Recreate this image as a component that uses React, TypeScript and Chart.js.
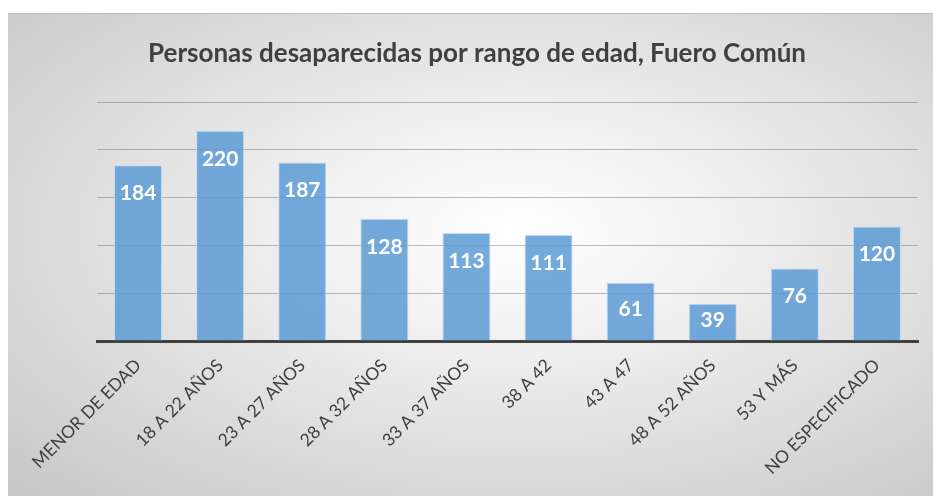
import React, { useEffect, useRef } from "react";
import { Chart, registerables } from "chart.js";

Chart.register(...registerables);

const title = "Personas desaparecidas por rango de edad, Fuero Común";
const categories = [
  "MENOR DE EDAD",
  "18 A 22 AÑOS",
  "23 A 27 AÑOS",
  "28 A 32 AÑOS",
  "33 A 37 AÑOS",
  "38 A 42",
  "43 A 47",
  "48 A 52 AÑOS",
  "53 Y MÁS",
  "NO ESPECIFICADO",
];
const values = [184, 220, 187, 128, 113, 111, 61, 39, 76, 120];
const yMax = 250;
const yStep = 50;

const valueLabels = {
  id: "valueLabels",
  afterDatasetsDraw(chart: any) {
    const ctx = chart.ctx;
    const meta = chart.getDatasetMeta(0);
    ctx.save();
    ctx.fillStyle = "#ffffff";
    ctx.font = "bold 21px Lato";
    ctx.textAlign = "center";
    ctx.textBaseline = "middle";
    meta.data.forEach((bar: any, i: number) => {
      const y = Math.min(bar.y + 28, (bar.y + bar.base) / 2 - 2);
      ctx.fillText(String(values[i]), bar.x, y);
    });
    ctx.restore();
  },
};

export default function App() {
  const ref = useRef<HTMLCanvasElement | null>(null);
  useEffect(() => {
    if (!ref.current) return;
    const chart = new Chart(ref.current, {
      type: "bar",
      data: {
        labels: categories,
        datasets: [
          {
            data: values,
            backgroundColor: "rgba(91,155,213,0.85)",
            borderColor: "rgba(195,218,240,0.95)",
            borderWidth: 1,
            barPercentage: 0.585,
            categoryPercentage: 1,
          },
        ],
      },
      options: {
        animation: false,
        responsive: false,
        devicePixelRatio: 1,
        layout: { padding: { left: 28, right: 15, top: 0, bottom: 0 } },
        plugins: {
          legend: { display: false },
          tooltip: { enabled: false },
          title: {
            display: true,
            text: title,
            color: "#404040",
            font: { family: "Lato", size: 26, weight: "bold" },
            padding: { top: 24, bottom: 33 },
          },
        },
        scales: {
          x: {
            grid: { display: false, drawTicks: false },
            border: { display: true, color: "#404040", width: 3 },
            ticks: {
              color: "#404040",
              font: { family: "Lato", size: 17.5 },
              minRotation: 45,
              maxRotation: 45,
              padding: 14,
              autoSkip: false,
            },
            afterFit(s: any) {
              s.height = 155;
            },
          },
          y: {
            min: 0,
            max: yMax,
            z: 1,
            ticks: { display: false, stepSize: yStep },
            grid: { color: "rgba(100,100,100,0.42)", drawTicks: false, lineWidth: 1 },
            border: { display: false },
            afterFit(s: any) {
              s.width = 61;
            },
          },
        },
      },
      plugins: [valueLabels],
    });
    return () => chart.destroy();
  }, []);
  return (
    <div
      style={{
        position: "absolute",
        left: 8,
        top: 13,
        width: 925,
        height: 483,
        background:
          "radial-gradient(ellipse farthest-corner at 55% 45%, #ffffff 0%, #f3f3f3 25%, #c6c6c6 100%)",
        borderTop: "1px solid #bdbdbd",
        boxSizing: "border-box",
      }}
    >
      <canvas ref={ref} width={925} height={482} style={{ display: "block" }} />
    </div>
  );
}
